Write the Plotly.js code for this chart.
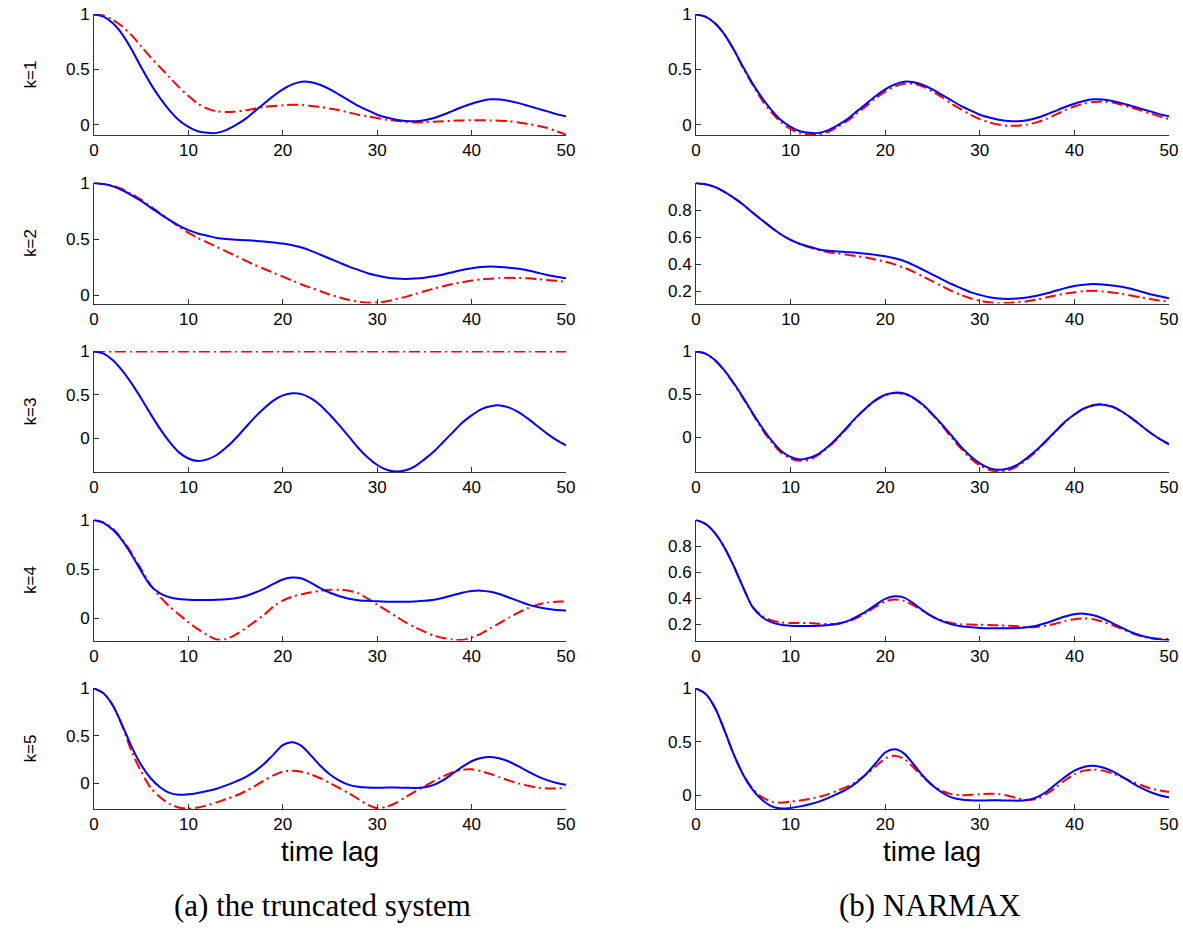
<!DOCTYPE html>
<html><head><meta charset="utf-8">
<script src="https://cdn.plot.ly/plotly-3.0.1.min.js"></script>
<style>body{margin:0;background:#fff}#chart{width:1183px;height:932px}</style>
</head><body><div id="chart"></div>
<script>
// time lags 0..50
const lags = [0,1,2,3,4,5,6,7,8,9,10,11,12,13,14,15,16,17,18,19,20,21,22,23,24,25,26,27,28,29,30,31,32,33,34,35,36,37,38,39,40,41,42,43,44,45,46,47,48,49,50];

// true system (blue, solid), one per k
const trueK1 = [1.00,0.98,0.92,0.82,0.68,0.52,0.37,0.24,0.13,0.04,-0.02,-0.06,-0.075,-0.075,-0.05,-0.005,0.05,0.12,0.19,0.26,0.32,0.365,0.39,0.385,0.36,0.32,0.27,0.22,0.17,0.13,0.09,0.065,0.045,0.033,0.03,0.04,0.06,0.09,0.125,0.16,0.19,0.215,0.23,0.228,0.215,0.195,0.17,0.145,0.12,0.095,0.075];
const trueK2 = [1.00,0.99,0.97,0.935,0.89,0.84,0.78,0.725,0.67,0.62,0.58,0.55,0.53,0.51,0.50,0.495,0.49,0.485,0.478,0.47,0.46,0.445,0.425,0.395,0.36,0.325,0.29,0.255,0.225,0.195,0.175,0.158,0.148,0.145,0.148,0.155,0.168,0.185,0.205,0.225,0.24,0.25,0.255,0.252,0.245,0.235,0.22,0.20,0.18,0.165,0.15];
const trueK3 = [1.00,0.975,0.90,0.78,0.63,0.46,0.28,0.11,-0.04,-0.16,-0.23,-0.26,-0.24,-0.19,-0.105,0.0,0.12,0.24,0.345,0.435,0.495,0.52,0.51,0.46,0.38,0.27,0.15,0.02,-0.11,-0.22,-0.305,-0.36,-0.38,-0.365,-0.32,-0.24,-0.15,-0.04,0.07,0.18,0.265,0.335,0.37,0.38,0.355,0.30,0.225,0.14,0.055,-0.02,-0.08];
const trueK4 = [1.00,0.97,0.90,0.79,0.645,0.48,0.33,0.255,0.215,0.197,0.19,0.187,0.187,0.19,0.195,0.205,0.225,0.26,0.30,0.35,0.395,0.415,0.405,0.36,0.305,0.26,0.225,0.20,0.185,0.178,0.173,0.17,0.17,0.17,0.172,0.178,0.19,0.21,0.235,0.26,0.278,0.282,0.27,0.245,0.21,0.175,0.14,0.115,0.097,0.085,0.08];
const trueK5 = [1.00,0.95,0.82,0.61,0.38,0.19,0.05,-0.045,-0.105,-0.125,-0.12,-0.105,-0.085,-0.06,-0.025,0.015,0.06,0.12,0.20,0.30,0.40,0.43,0.39,0.29,0.18,0.09,0.025,-0.02,-0.04,-0.048,-0.05,-0.048,-0.048,-0.05,-0.052,-0.045,-0.02,0.03,0.10,0.17,0.23,0.265,0.275,0.26,0.225,0.175,0.12,0.07,0.03,0.0,-0.02];

// (a) the truncated system (red, dash-dot)
const truncK1 = [1.00,0.99,0.95,0.89,0.81,0.71,0.61,0.52,0.43,0.34,0.26,0.19,0.145,0.12,0.115,0.12,0.13,0.145,0.16,0.17,0.175,0.18,0.178,0.17,0.16,0.145,0.13,0.11,0.09,0.075,0.06,0.045,0.035,0.025,0.02,0.022,0.026,0.03,0.035,0.038,0.04,0.04,0.038,0.035,0.03,0.02,0.005,-0.01,-0.03,-0.06,-0.09];
const truncK2 = [1.00,0.99,0.975,0.945,0.90,0.85,0.79,0.73,0.67,0.61,0.555,0.51,0.47,0.43,0.39,0.35,0.31,0.27,0.235,0.20,0.165,0.13,0.095,0.065,0.035,0.005,-0.02,-0.042,-0.058,-0.067,-0.065,-0.055,-0.035,-0.015,0.01,0.035,0.06,0.08,0.10,0.115,0.13,0.14,0.147,0.152,0.155,0.153,0.15,0.143,0.135,0.128,0.12];
const truncK3 = [1,1,1,1,1,1,1,1,1,1,1,1,1,1,1,1,1,1,1,1,1,1,1,1,1,1,1,1,1,1,1,1,1,1,1,1,1,1,1,1,1,1,1,1,1,1,1,1,1,1,1];
const truncK4 = [1.00,0.975,0.91,0.80,0.66,0.50,0.34,0.22,0.12,0.04,-0.04,-0.11,-0.17,-0.215,-0.21,-0.165,-0.105,-0.035,0.035,0.12,0.18,0.22,0.245,0.265,0.28,0.29,0.29,0.28,0.255,0.20,0.14,0.08,0.02,-0.04,-0.09,-0.135,-0.175,-0.20,-0.215,-0.22,-0.195,-0.155,-0.10,-0.045,0.01,0.06,0.105,0.14,0.16,0.17,0.17];
const truncK5 = [1.00,0.95,0.82,0.60,0.33,0.12,-0.05,-0.15,-0.22,-0.26,-0.27,-0.26,-0.235,-0.205,-0.17,-0.135,-0.09,-0.035,0.025,0.08,0.12,0.13,0.12,0.09,0.05,0.0,-0.055,-0.11,-0.17,-0.23,-0.265,-0.25,-0.21,-0.15,-0.09,-0.035,0.02,0.07,0.115,0.14,0.145,0.125,0.095,0.06,0.025,-0.005,-0.03,-0.048,-0.058,-0.058,-0.05];

// (b) NARMAX (red, dash-dot)
const narmaxK1 = [1.00,0.98,0.92,0.82,0.68,0.51,0.36,0.22,0.11,0.02,-0.04,-0.08,-0.09,-0.088,-0.065,-0.02,0.035,0.10,0.17,0.24,0.30,0.345,0.37,0.37,0.345,0.30,0.25,0.19,0.14,0.09,0.05,0.02,0.0,-0.01,-0.01,0.0,0.02,0.05,0.09,0.13,0.165,0.19,0.205,0.21,0.20,0.18,0.155,0.13,0.10,0.075,0.05];
const narmaxK2 = [1.00,0.99,0.97,0.935,0.89,0.84,0.78,0.725,0.67,0.62,0.58,0.55,0.525,0.505,0.49,0.48,0.47,0.46,0.45,0.435,0.42,0.40,0.375,0.345,0.31,0.275,0.24,0.205,0.175,0.15,0.132,0.12,0.115,0.115,0.12,0.128,0.14,0.155,0.17,0.185,0.195,0.202,0.205,0.20,0.193,0.183,0.17,0.157,0.145,0.133,0.125];
const narmaxK3 = [1.00,0.975,0.895,0.775,0.62,0.45,0.27,0.09,-0.06,-0.18,-0.25,-0.275,-0.26,-0.20,-0.115,-0.01,0.11,0.235,0.34,0.43,0.49,0.515,0.505,0.455,0.37,0.26,0.135,0.0,-0.13,-0.245,-0.33,-0.38,-0.40,-0.385,-0.335,-0.255,-0.16,-0.05,0.065,0.175,0.265,0.335,0.375,0.385,0.36,0.30,0.225,0.14,0.055,-0.02,-0.085];
const narmaxK4 = [1.00,0.97,0.90,0.79,0.645,0.48,0.335,0.265,0.23,0.215,0.21,0.21,0.21,0.205,0.202,0.205,0.22,0.25,0.29,0.335,0.375,0.39,0.38,0.345,0.30,0.26,0.23,0.21,0.20,0.198,0.197,0.195,0.193,0.19,0.185,0.178,0.18,0.19,0.205,0.225,0.24,0.245,0.24,0.22,0.195,0.165,0.135,0.11,0.095,0.09,0.088];
const narmaxK5 = [1.00,0.95,0.82,0.61,0.38,0.19,0.06,-0.02,-0.06,-0.07,-0.06,-0.05,-0.035,-0.015,0.01,0.045,0.08,0.13,0.195,0.27,0.345,0.37,0.34,0.26,0.17,0.095,0.04,0.01,0.0,0.003,0.008,0.013,0.01,-0.005,-0.03,-0.045,-0.035,0.01,0.07,0.14,0.195,0.23,0.24,0.23,0.205,0.17,0.13,0.095,0.065,0.045,0.03];

const rowLabels = ["k=1","k=2","k=3","k=4","k=5"];
const xTicks = [0,10,20,30,40,50];
const yTicksMain = [0,0.5,1];
const yTicksFine = [0.2,0.4,0.6,0.8];
const xTitle = "time lag";
const captions = ["(a) the truncated system","(b) NARMAX"];

const trueSeries = [trueK1,trueK2,trueK3,trueK4,trueK5];
const leftRed = [truncK1,truncK2,truncK3,truncK4,truncK5];
const rightRed = [narmaxK1,narmaxK2,narmaxK3,narmaxK4,narmaxK5];
const leftMin = [-0.09,-0.07,-0.38,-0.22,-0.27];
const rightMin = [-0.09,0.115,-0.40,0.08,-0.125];
const rightTicks = [yTicksMain,yTicksFine,yTicksMain,yTicksFine,yTicksMain];

const W = 1183, H = 932;
const colX = [[94,566],[696,1169]];
const tops = [14,182.5,351,519.5,688];
const plotH = 121;

const sans = "Liberation Sans, Arial, Helvetica, sans-serif";
const font = {family:sans, size:17, color:"#000"};
const data = [];
const layout = {
  width:W, height:H, margin:{l:0,r:0,t:0,b:0},
  paper_bgcolor:"#fff", plot_bgcolor:"#fff", showlegend:false,
  font: font, annotations: []
};
const blueLine = {color:"#0000ff", width:2, shape:"spline", smoothing:0.8};
const redLine = {color:"#ff0000", width:2, dash:"11px,4px,2px,4px", shape:"spline", smoothing:0.8};

for (let r=0;r<5;r++){
  for (let c=0;c<2;c++){
    const idx = r*2+c+1;
    const sfx = idx===1 ? "" : String(idx);
    const xa = "x"+sfx, ya = "y"+sfx;
    const red = c===0 ? leftRed[r] : rightRed[r];
    data.push({x:lags, y:red, xaxis:xa, yaxis:ya, mode:"lines", line:redLine, hoverinfo:"skip"});
    data.push({x:lags, y:trueSeries[r], xaxis:xa, yaxis:ya, mode:"lines", line:blueLine, hoverinfo:"skip"});
    const lo = c===0 ? leftMin[r] : rightMin[r];
    const pad = (1-lo)*0.004;
    const top = tops[r], bot = tops[r]+plotH;
    layout["xaxis"+sfx] = {
      domain:[colX[c][0]/W, colX[c][1]/W], anchor:ya, range:[0,50],
      tickvals:xTicks, ticks:"inside", ticklen:5, tickcolor:"#333",
      showline:true, linecolor:"#333", linewidth:1, showgrid:false, zeroline:false,
      tickfont:font, fixedrange:true
    };
    layout["yaxis"+sfx] = {
      domain:[1-bot/H, 1-top/H], anchor:xa, range:[lo-pad, 1+pad],
      tickvals: c===0 ? yTicksMain : rightTicks[r], ticks:"inside", ticklen:5, tickcolor:"#333",
      showline:true, linecolor:"#333", linewidth:1, showgrid:false, zeroline:false,
      tickfont:font, fixedrange:true
    };
  }
  layout.annotations.push({text:rowLabels[r], xref:"paper", yref:"paper",
    x:30/W, y:1-(tops[r]+plotH/2)/H, xanchor:"center", yanchor:"middle", textangle:-90, showarrow:false,
    font:{family:sans, size:17, color:"#000"}});
}
for (let c=0;c<2;c++){
  const cx = (colX[c][0]+colX[c][1])/2/W;
  layout.annotations.push({text:xTitle, xref:"paper", yref:"paper", x:cx, y:1-851/H,
    xanchor:"center", yanchor:"middle",
    showarrow:false, font:{family:sans, size:28, color:"#000"}});
}
layout.annotations.push({text:captions[0], xref:"paper", yref:"paper", x:322/W, y:1-905/H,
  xanchor:"center", yanchor:"middle",
  showarrow:false, font:{family:"Liberation Serif, DejaVu Serif, serif", size:31, color:"#000"}});
layout.annotations.push({text:captions[1], xref:"paper", yref:"paper", x:930/W, y:1-905/H,
  xanchor:"center", yanchor:"middle",
  showarrow:false, font:{family:"Liberation Serif, DejaVu Serif, serif", size:31, color:"#000"}});
Plotly.newPlot("chart", data, layout, {displayModeBar:false, staticPlot:true});
</script></body></html>
